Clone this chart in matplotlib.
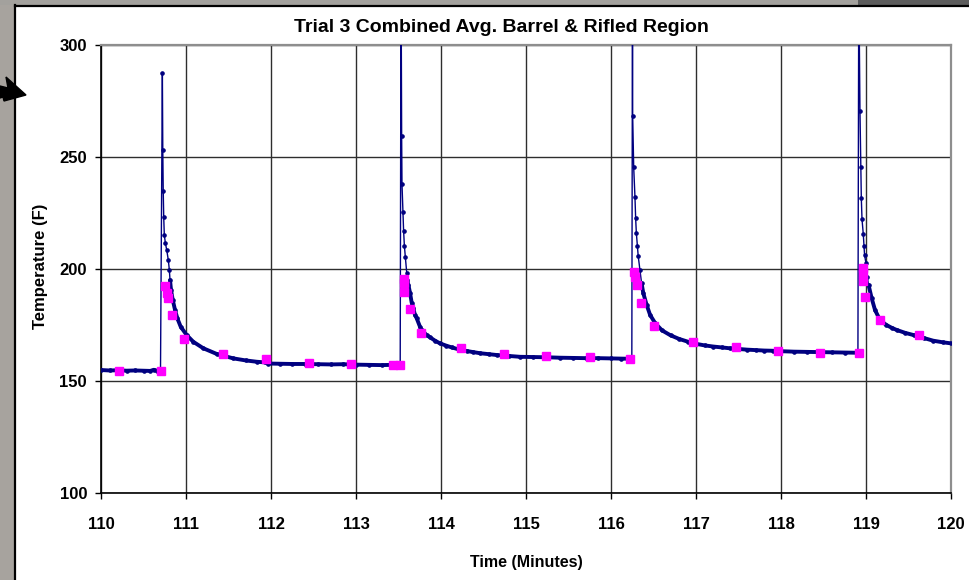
import numpy as np
import matplotlib
matplotlib.use("Agg")
import matplotlib.pyplot as plt
from matplotlib.patches import Rectangle, Polygon
from matplotlib.lines import Line2D

plt.rcParams["font.family"] = ["Liberation Sans", "DejaVu Sans"]
plt.rcParams["font.weight"] = "bold"

TITLE = "Trial 3 Combined Avg. Barrel & Rifled Region"
X_LABEL = "Time (Minutes)"
Y_LABEL = "Temperature (F)"
x_ticks = [110, 111, 112, 113, 114, 115, 116, 117, 118, 119, 120]
y_ticks = [100, 150, 200, 250, 300]

# Thermocouple average, sampled trace (minutes, deg F)
t_pre = [110.00, 110.10, 110.20, 110.30, 110.40, 110.50, 110.58, 110.62, 110.66, 110.70]
temp_pre = [154.9, 154.7, 154.8, 154.6, 154.7, 154.6, 154.5, 155.0, 154.6, 154.7]

t_shot1 = [110.722, 110.727, 110.732, 110.738, 110.745, 110.758, 110.773, 110.792,
           110.804, 110.812, 110.824, 110.844, 110.871, 110.898, 110.938, 111.008,
           111.086, 111.204, 111.36, 111.556, 111.70, 111.83, 111.93, 111.96,
           112.10, 112.25, 112.40, 112.55, 112.70, 112.85, 113.00, 113.15,
           113.30, 113.42, 113.52]
temp_shot1 = [287.5, 253.0, 235.0, 223.0, 215.0, 211.5, 208.5, 204.0,
              199.6, 195.1, 190.6, 186.2, 181.7, 178.0, 174.2, 170.5,
              167.5, 164.6, 162.1, 160.1, 159.2, 158.6, 158.3, 157.8,
              157.7, 157.6, 157.6, 157.5, 157.4, 157.5, 157.3, 157.2,
              157.1, 157.2, 157.0]

t_shot2 = [113.530, 113.537, 113.541, 113.553, 113.560, 113.569, 113.580, 113.596,
           113.604, 113.616, 113.635, 113.655, 113.674, 113.694, 113.714, 113.753,
           113.772, 113.831, 113.870, 113.930, 113.988, 114.060, 114.125, 114.21,
           114.30, 114.38, 114.46, 114.56, 114.655, 114.80, 114.93, 115.08,
           115.24, 115.40, 115.55, 115.70, 115.85, 116.00, 116.12, 116.245]
temp_shot2 = [335.0, 259.5, 238.0, 225.3, 217.1, 210.4, 205.5, 198.1,
              195.1, 192.9, 189.5, 185.0, 182.5, 179.5, 178.0, 174.2,
              172.8, 170.5, 169.5, 168.0, 166.8, 165.8, 165.0, 164.1,
              163.4, 162.9, 162.4, 162.0, 161.6, 161.2, 160.8, 160.7,
              160.6, 160.4, 160.3, 160.2, 160.2, 160.1, 160.0, 159.9]

t_shot3 = [116.253, 116.255, 116.267, 116.282, 116.290, 116.298, 116.310, 116.320,
           116.340, 116.360, 116.380, 116.420, 116.460, 116.520, 116.60, 116.70,
           116.80, 116.90, 117.00, 117.10, 117.20, 117.30, 117.40, 117.50,
           117.60, 117.70, 117.80, 117.90, 118.00, 118.15, 118.30, 118.45,
           118.60, 118.75, 118.905]
temp_shot3 = [325.0, 268.4, 245.4, 232.0, 222.6, 216.2, 210.3, 205.8,
              199.6, 193.6, 189.2, 183.9, 179.5, 175.8, 172.6, 170.4,
              168.8, 167.6, 166.6, 165.9, 165.4, 165.0, 164.6, 164.3,
              164.0, 163.8, 163.6, 163.5, 163.3, 163.1, 163.0, 162.9,
              162.8, 162.7, 162.6]

t_shot4 = [118.915, 118.929, 118.940, 118.945, 118.953, 118.968, 118.976, 118.983,
           119.000, 119.015, 119.030, 119.067, 119.106, 119.165, 119.240, 119.30,
           119.36, 119.46, 119.56, 119.68, 119.79, 119.90, 120.00]
temp_shot4 = [330.0, 270.7, 245.4, 231.5, 222.2, 215.6, 210.3, 206.3,
              202.5, 196.6, 192.9, 186.9, 181.7, 177.2, 175.0, 173.8,
              172.8, 171.5, 170.5, 169.2, 168.0, 167.3, 166.8]

# Barrel surface readings (minutes, deg F)
barrel_t = [110.215, 110.706, 110.757, 110.780, 110.785, 110.830, 110.980, 111.440,
            111.940, 112.450, 112.940, 113.440, 113.520, 113.560, 113.565, 113.570,
            113.630, 113.770, 114.240, 114.740, 115.240, 115.750, 116.220, 116.270,
            116.280, 116.310, 116.350, 116.510, 116.965, 117.470, 117.960, 118.460,
            118.920, 118.960, 118.965, 118.970, 118.985, 119.165, 119.620]
barrel_temp = [154.5, 154.5, 192.4, 189.2, 186.9, 179.3, 168.8, 161.9,
               159.8, 158.2, 157.7, 157.3, 157.3, 195.4, 193.6, 189.9,
               182.0, 171.6, 164.9, 162.0, 161.0, 160.8, 159.7, 198.5,
               196.5, 192.9, 184.7, 174.5, 167.4, 165.2, 163.4, 162.5,
               162.6, 200.3, 198.0, 194.8, 187.6, 177.2, 170.5]

trace_t = np.array(t_pre + t_shot1 + t_shot2 + t_shot3 + t_shot4)
trace_temp = np.array(temp_pre + temp_shot1 + temp_shot2 + temp_shot3 + temp_shot4)

W, H = 969, 580
fig = plt.figure(figsize=(W / 100, H / 100), dpi=100)
fig.patch.set_facecolor("white")


def px_rect(x0, y0, x1, y1, color):
    fig.add_artist(Rectangle((x0 / W, 1 - y1 / H), (x1 - x0) / W, (y1 - y0) / H,
                             transform=fig.transFigure, facecolor=color,
                             edgecolor="none", zorder=0))


# window frame around the chart
px_rect(0, 0, 15, H, "#a7a39e")
px_rect(0, 0, 858, 5, "#a3a19d")
px_rect(858, 0, W, 5, "#5c5c5c")
fig.add_artist(Line2D([15 / W, 15 / W], [0, 1 - 5 / H], transform=fig.transFigure,
                      color="black", lw=1.6, zorder=1))
fig.add_artist(Line2D([15 / W, 1], [1 - 5.5 / H, 1 - 5.5 / H], transform=fig.transFigure,
                      color="black", lw=1.6, zorder=1))
arrow_px = [(0, 86), (8, 88), (6, 77), (26, 95), (4, 101), (3, 97), (0, 98)]
fig.add_artist(Polygon([(x / W, 1 - y / H) for x, y in arrow_px], closed=True,
                       transform=fig.transFigure, facecolor="black",
                       edgecolor="black", zorder=2))

ax = fig.add_axes([101 / W, 87 / H, 850 / W, 448 / H])
ax.set_facecolor("white")
ax.set_xlim(110, 120)
ax.set_ylim(100, 300)
ax.set_xticks(x_ticks)
ax.set_yticks(y_ticks)
ax.grid(True, color="#2e2e2e", lw=1.0)
ax.set_axisbelow(True)

for side in ("top", "right"):
    ax.spines[side].set_color("#8e8e8e")
    ax.spines[side].set_linewidth(1.6)
for side in ("left", "bottom"):
    ax.spines[side].set_color("black")
    ax.spines[side].set_linewidth(1.2)

ax.tick_params(axis="both", direction="out", length=4, width=1, color="black",
               labelsize=12)
ax.tick_params(axis="x", pad=13)
ax.tick_params(axis="y", pad=6)
for lab in ax.get_xticklabels() + ax.get_yticklabels():
    lab.set_fontweight("bold")

navy = "#000080"
ax.plot(trace_t, trace_temp, color=navy, lw=1.0, marker="o", ms=2.3,
        mec=navy, mfc=navy, zorder=3)
settled = np.where(trace_temp < 196, trace_temp, np.nan)
ax.plot(trace_t, settled, color=navy, lw=2.8, zorder=3, solid_capstyle="round")
ax.plot(barrel_t, barrel_temp, ls="none", marker="s", ms=6, color="#ff00ff",
        mec="#ff00ff", zorder=4)

fig.text(501 / W, 1 - 28 / H, TITLE, ha="center", va="center",
         fontsize=14, fontweight="bold")
fig.text(526 / W, 1 - 562 / H, X_LABEL, ha="center", va="center",
         fontsize=11.5, fontweight="bold")
fig.text(40 / W, 1 - 266 / H, Y_LABEL, ha="center", va="center", rotation=90,
         fontsize=12, fontweight="bold")

fig.savefig("out.png", dpi=100, facecolor="white")
